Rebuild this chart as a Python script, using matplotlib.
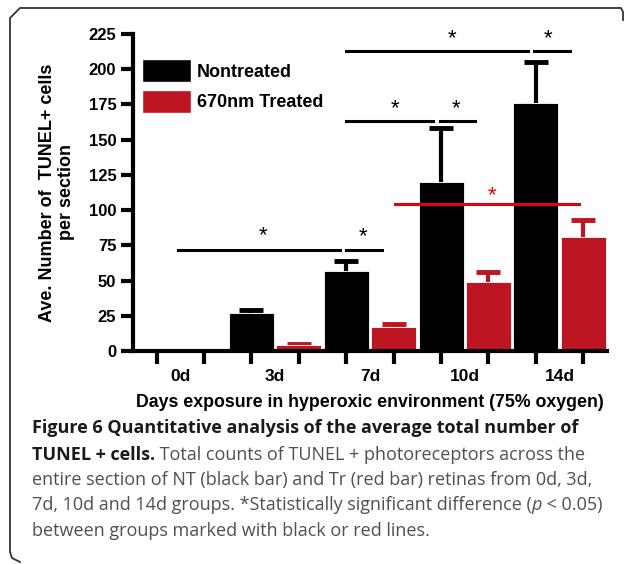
import matplotlib.pyplot as plt
from matplotlib.lines import Line2D
from matplotlib.patches import Patch

# data
groups = ['0d', '3d', '7d', '10d', '14d']
nontreated = [0.5, 27, 57, 120, 176]
nontreated_err = [0, 2, 7, 38, 29]
treated = [0.5, 4, 17, 49, 81]
treated_err = [0, 1, 2, 7, 12]

# significance lines: (x start, x end, height) in bar-slot units
sig_black = [(0.44, 3.86, 72), (4.0, 4.75, 72),
             (3.99, 5.82, 163), (5.97, 6.71, 163),
             (3.99, 7.83, 213), (7.97, 8.71, 213)]
sig_black_star = [(2.24, 82), (4.35, 81), (5.02, 172), (6.31, 172), (6.22, 222), (8.25, 222)]
sig_red = [(5.02, 8.90, 104)]
sig_red_star = [(7.07, 110)]

black = '#000000'
red = '#be1522'
bright_red = '#e3000f'

plt.rcParams['font.family'] = ['Liberation Sans', 'DejaVu Sans']

fig = plt.figure(figsize=(6.27, 5.64), dpi=100)
ax = fig.add_axes([0.2121, 0.3777, 0.756, 0.562])

nt_x = [2 * i for i in range(len(groups))]
tr_x = [2 * i + 1 for i in range(len(groups))]

ax.bar(nt_x, nontreated, width=0.95, color=black, edgecolor='white', linewidth=0.6, zorder=2)
ax.bar(tr_x, treated, width=0.95, color=red, edgecolor='white', linewidth=0.6, zorder=2)
for xs, ys, errs, c in [(nt_x, nontreated, nontreated_err, black), (tr_x, treated, treated_err, red)]:
    xe = [x for x, e in zip(xs, errs) if e > 0]
    ye = [y for y, e in zip(ys, errs) if e > 0]
    ee = [e for e in errs if e > 0]
    _, caps, _ = ax.errorbar(xe, ye, yerr=[[0] * len(ee), ee], fmt='none', ecolor=c,
                             elinewidth=3, capsize=8.3, capthick=3.5, zorder=1)
    caps[0].set_visible(False)

for x0, x1, y in sig_black:
    ax.plot([x0, x1], [y, y], color=black, lw=2.2, clip_on=False, zorder=3)
for x, y in sig_black_star:
    ax.text(x, y, '*', ha='center', va='center', fontsize=16, color=black)
for x0, x1, y in sig_red:
    ax.plot([x0, x1], [y, y], color=bright_red, lw=2.2, clip_on=False, zorder=3)
for x, y in sig_red_star:
    ax.text(x, y, '*', ha='center', va='center', fontsize=16, color=bright_red)

ax.set_xlim(-0.5, 9.5)
ax.set_ylim(0, 225)
ax.set_yticks(range(0, 226, 25))
ax.set_xticks(nt_x + tr_x)
ax.set_xticklabels([])
ax.set_xticks([2 * i + 0.5 for i in range(len(groups))], minor=True)
ax.set_xticklabels(groups, minor=True, fontsize=12.5, fontweight='bold')
ax.tick_params(axis='x', which='minor', length=0, pad=13)
ax.tick_params(axis='x', which='major', length=9, width=3, direction='out')
ax.tick_params(axis='y', length=9, width=3, direction='out', labelsize=12, pad=3)
for lab in ax.get_yticklabels():
    lab.set_fontweight('bold')

for s in ['top', 'right']:
    ax.spines[s].set_visible(False)
for s in ['left', 'bottom']:
    ax.spines[s].set_linewidth(3)

ax.set_ylabel('Ave. Number of  TUNEL+ cells\nper section', fontsize=13, fontweight='bold',
              labelpad=10, linespacing=1.15)
ax.set_xlabel('Days exposure in hyperoxic environment (75% oxygen)', fontsize=12.8,
              fontweight='bold', labelpad=7)

handles = [Patch(facecolor=black, edgecolor='white'), Patch(facecolor=red, edgecolor='white')]
ax.legend(handles, ['Nontreated', '670nm Treated'], loc='upper left',
          bbox_to_anchor=(0.02, 0.92), frameon=False, borderpad=0, borderaxespad=0,
          handlelength=2.7, handleheight=1.55, handletextpad=0.3, labelspacing=0.45,
          prop={'size': 13, 'weight': 'bold'})

# frame around figure and caption
W, H = 627, 564
frame_x = [623, 623, 621, 20, 10, 10, 12, 20]
frame_y = [20, 12, 8, 8, 18, 552, 558, 562]
fig.add_artist(Line2D([x / W for x in frame_x], [1 - y / H for y in frame_y],
                      color='#333333', lw=1.3, transform=fig.transFigure))

# caption
cap_font = ['Open Sans', 'DejaVu Sans']
cap_size = 13.0
grey = '#505050'
lines_y = [428, 455, 480, 505, 531]

def cap_text(x, y, s, **kw):
    return fig.text(x / W, 1 - y / H, s, fontsize=cap_size, family=cap_font, va='center', **kw)

fig.canvas.draw()
renderer = fig.canvas.get_renderer()

def run(y, parts):
    x = 32
    for s, kw in parts:
        t = cap_text(x, y, s, **kw)
        bb = t.get_window_extent(renderer)
        x += bb.width

run(lines_y[0], [('Figure 6 Quantitative analysis of the average total number of',
                  dict(fontweight='bold', color='#1a1a1a'))])
run(lines_y[1], [('TUNEL + cells.', dict(fontweight='bold', color='#1a1a1a')),
                 (' Total counts of TUNEL + photoreceptors across the', dict(color=grey))])
run(lines_y[2], [('entire section of NT (black bar) and Tr (red bar) retinas from 0d, 3d,',
                  dict(color=grey))])
run(lines_y[3], [('7d, 10d and 14d groups. *Statistically significant difference (', dict(color=grey)),
                 ('p', dict(color=grey, style='italic')),
                 (' < 0.05)', dict(color=grey))])
run(lines_y[4], [('between groups marked with black or red lines.', dict(color=grey))])

fig.savefig('out.png', dpi=100)
